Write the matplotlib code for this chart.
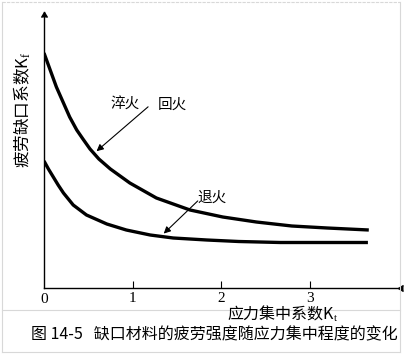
import matplotlib
matplotlib.use("Agg")
import matplotlib.pyplot as plt
from matplotlib.lines import Line2D

plt.rcParams['font.family'] = ['Noto Sans CJK SC', 'DejaVu Sans']
plt.rcParams['mathtext.fontset'] = 'custom'
plt.rcParams['mathtext.rm'] = 'Liberation Serif'
plt.rcParams['mathtext.it'] = 'Liberation Serif'

# Data
upper_x = [0.00, 0.07, 0.14, 0.22, 0.29, 0.37, 0.44, 0.52, 0.62, 0.75, 0.97, 1.27, 1.65, 2.02, 2.40, 2.80, 3.20, 3.67]
upper_y = [2.35, 2.18, 2.01, 1.85, 1.71, 1.58, 1.49, 1.39, 1.29, 1.19, 1.05, 0.90, 0.78, 0.71, 0.66, 0.62, 0.60, 0.58]
lower_x = [0.00, 0.05, 0.105, 0.16, 0.22, 0.33, 0.48, 0.71, 0.93, 1.20, 1.46, 1.84, 2.20, 2.67, 3.20, 3.66]
lower_y = [1.27, 1.19, 1.11, 1.03, 0.95, 0.83, 0.73, 0.64, 0.58, 0.53, 0.50, 0.48, 0.465, 0.455, 0.455, 0.455]
xticks = [1, 2, 3]

fig = plt.figure(figsize=(4.08, 3.55), dpi=100)
W, H = 408, 355

# light frame lines
def fl(x0, y0, x1, y1, **kw):
    fig.add_artist(Line2D([x0 / W, x1 / W], [1 - y0 / H, 1 - y1 / H], transform=fig.transFigure,
                          color='#d8d8d8', lw=0.8, **kw))
fl(2, 2, 400, 2, ls=(0, (3, 1)))
fl(400, 2, 400, 352)
fl(2, 2, 2, 352)
fl(2, 310, 400, 310)
fl(2, 352, 400, 352)

ax = fig.add_axes([44 / W, (H - 288) / H, (398 - 44) / W, (288 - 12) / H])
ax.set_xlim(0, 4.0)
ax.set_ylim(0, 2.76)
for s in ['top', 'right']:
    ax.spines[s].set_visible(False)
for s in ['left', 'bottom']:
    ax.spines[s].set_linewidth(1.0)
ax.plot(1, 0, marker=4, color='black', ms=5, transform=ax.get_yaxis_transform(), clip_on=False)
ax.plot(0, 1, marker=6, color='black', ms=5, transform=ax.get_xaxis_transform(), clip_on=False)

ax.set_xticks(xticks)
ax.set_xticklabels([str(t) for t in xticks], fontfamily='Liberation Serif', fontsize=11)
ax.tick_params(axis='x', direction='in', length=5, pad=3)
ax.set_yticks([])
ax.text(0, -0.05, '0', ha='center', va='top', fontfamily='Liberation Serif', fontsize=11)

ax.plot(upper_x, upper_y, color='black', lw=2.4, solid_capstyle='butt', solid_joinstyle='round')
ax.plot(lower_x, lower_y, color='black', lw=2.4, solid_capstyle='butt', solid_joinstyle='round')

ax.text(0.92, 1.83, '淬火', ha='center', va='center', fontsize=10.5)
ax.text(1.45, 1.83, '回火', ha='center', va='center', fontsize=10.5)
ax.annotate('', xy=(0.57, 1.35), xytext=(1.20, 1.83),
            arrowprops=dict(arrowstyle='-|>', color='black', lw=0.8, mutation_scale=10))
ax.text(1.90, 0.90, '退火', ha='center', va='center', fontsize=10.5)
ax.annotate('', xy=(1.33, 0.525), xytext=(1.76, 0.89),
            arrowprops=dict(arrowstyle='-|>', color='black', lw=0.8, mutation_scale=10))

fig.text(22 / W, 1 - 110 / H, '疲劳缺口系数K$_{\\mathrm{f}}$', rotation=90, ha='center', va='center', fontsize=12)
fig.text(283 / W, 1 - 314 / H, '应力集中系数K$_{\\mathrm{t}}$', ha='center', va='center', fontsize=11.5)
fig.text(31 / W, 1 - 335 / H, '图 14-5   缺口材料的疲劳强度随应力集中程度的变化', ha='left', va='center', fontsize=11.5)

fig.savefig('out.png', dpi=100)
